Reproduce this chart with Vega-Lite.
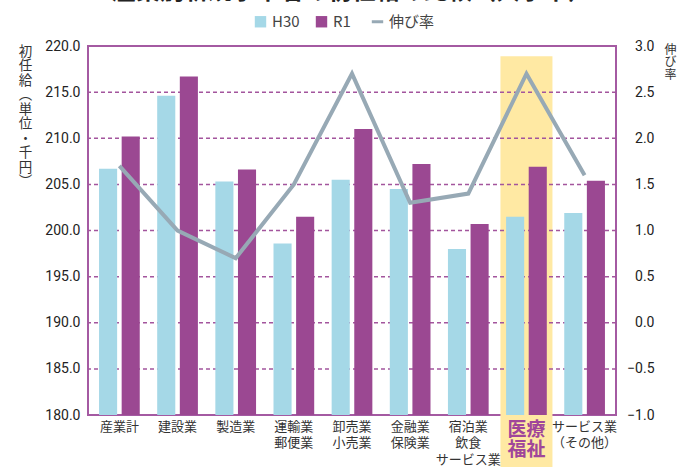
{
  "$schema": "https://vega.github.io/schema/vega-lite/v6.json",
  "width": 528,
  "height": 369,
  "autosize": "none",
  "padding": {"left": 88, "top": 46, "right": 64, "bottom": 52},
  "title": {"text": "産業別新規学卒者の初任給の比較（大学卒）", "fontSize": 24, "font": "Noto Sans CJK JP", "fontWeight": "bold", "color": "#222", "offset": 6, "dy": 20, "baseline": "bottom", "anchor": "middle"},
  "config": {
    "view": {"stroke": "#a45aa2", "strokeWidth": 2},
    "font": "Noto Sans CJK JP",
    "style": {"guide-label": {"lineBreak": "|"}}
  },
  "datasets": {
    "bars": [
      {"cat": "産業計", "series": "H30", "value": 206.7},
      {"cat": "産業計", "series": "R1", "value": 210.2},
      {"cat": "建設業", "series": "H30", "value": 214.6},
      {"cat": "建設業", "series": "R1", "value": 216.7},
      {"cat": "製造業", "series": "H30", "value": 205.3},
      {"cat": "製造業", "series": "R1", "value": 206.6},
      {"cat": "運輸業|郵便業", "series": "H30", "value": 198.6},
      {"cat": "運輸業|郵便業", "series": "R1", "value": 201.5},
      {"cat": "卸売業|小売業", "series": "H30", "value": 205.5},
      {"cat": "卸売業|小売業", "series": "R1", "value": 211.0},
      {"cat": "金融業|保険業", "series": "H30", "value": 204.5},
      {"cat": "金融業|保険業", "series": "R1", "value": 207.2},
      {"cat": "宿泊業|飲食|サービス業", "series": "H30", "value": 198.0},
      {"cat": "宿泊業|飲食|サービス業", "series": "R1", "value": 200.7},
      {"cat": "医療|福祉", "series": "H30", "value": 201.5},
      {"cat": "医療|福祉", "series": "R1", "value": 206.9},
      {"cat": "サービス業|（その他）", "series": "H30", "value": 201.9},
      {"cat": "サービス業|（その他）", "series": "R1", "value": 205.4}
    ],
    "rate": [
      {"cat": "産業計", "rate": 1.7},
      {"cat": "建設業", "rate": 1.0},
      {"cat": "製造業", "rate": 0.7},
      {"cat": "運輸業|郵便業", "rate": 1.5},
      {"cat": "卸売業|小売業", "rate": 2.7},
      {"cat": "金融業|保険業", "rate": 1.3},
      {"cat": "宿泊業|飲食|サービス業", "rate": 1.4},
      {"cat": "医療|福祉", "rate": 2.7},
      {"cat": "サービス業|（その他）", "rate": 1.6}
    ],
    "highlight": [{"cat": "医療|福祉", "top": 218.9, "bottom": 174.2}],
    "grid": [{"v": 185}, {"v": 190}, {"v": 195}, {"v": 200}, {"v": 205}, {"v": 210}, {"v": 215}]
  },
  "encoding": {
    "x": {
      "field": "cat", "type": "nominal",
      "sort": ["産業計", "建設業", "製造業", "運輸業|郵便業", "卸売業|小売業", "金融業|保険業", "宿泊業|飲食|サービス業", "医療|福祉", "サービス業|（その他）"],
      "scale": {"paddingInner": 0.3, "paddingOuter": 0.19},
      "axis": {
        "title": null, "domain": false, "ticks": false, "labelAngle": 0,
        "labelPadding": 5, "labelBaseline": "top", "labelOverlap": false, "zindex": 1,
        "labelFont": "Noto Sans CJK JP",
        "labelLineHeight": {"expr": "datum.value == '医療|福祉' ? 20 : 16.5"},
        "labelFontSize": {"condition": {"test": "datum.value == '医療|福祉'", "value": 19}, "value": 13},
        "labelColor": {"condition": {"test": "datum.value == '医療|福祉'", "value": "#a0469a"}, "value": "#333333"},
        "labelFontWeight": {"condition": {"test": "datum.value == '医療|福祉'", "value": "bold"}, "value": "normal"}
      }
    }
  },
  "layer": [
    {
      "layer": [
        {
          "data": {"name": "highlight"},
          "mark": {"type": "bar", "color": "#ffe9a3", "width": 52, "clip": false},
          "encoding": {
            "y": {"field": "top", "type": "quantitative"},
            "y2": {"field": "bottom"}
          }
        },
        {
          "data": {"name": "grid"},
          "mark": {"type": "rule", "color": "#a3559d", "strokeWidth": 1.5, "strokeDash": [4, 3]},
          "encoding": {
            "x": null,
            "y": {"field": "v", "type": "quantitative"}
          }
        },
        {
          "data": {"name": "bars"},
          "mark": {"type": "bar", "clip": true},
          "encoding": {
            "xOffset": {"field": "series", "sort": ["H30", "R1"], "scale": {"paddingInner": 0.2}},
            "y": {
              "field": "value", "type": "quantitative",
              "scale": {"domain": [180, 220], "nice": false, "zero": false},
              "axis": {
                "title": ["初", "任", "給", "︵", "単", "位", "・", "千", "円", "︶"],
                "titleAngle": 0, "titleAlign": "center", "titleBaseline": "top",
                "titleX": -63, "titleY": -2, "titleFontSize": 13.5, "titleLineHeight": 14.5,
                "titleFontWeight": "normal", "titleColor": "#333",
                "titleFont": "Noto Sans CJK JP",
                "values": [180, 185, 190, 195, 200, 205, 210, 215, 220],
                "format": ".1f", "grid": false, "domain": false, "ticks": false,
                "labelPadding": 8, "labelFontSize": 14, "labelFont": "Roboto", "labelColor": "#222"
              }
            },
            "color": {
              "field": "series", "type": "nominal",
              "scale": {"domain": ["H30", "R1", "伸び率"], "range": ["#a5d8e7", "#9b4892", "#97a9b5"]},
              "legend": {
                "title": null, "orient": "none", "direction": "horizontal",
                "legendX": 165, "legendY": -32,
                "labelFontSize": 15, "labelColor": "#444", "labelFont": "Noto Sans CJK JP",
                "symbolSize": 130, "columnPadding": 14, "labelOffset": 4,
                "encode": {
                  "symbols": {
                    "update": {
                      "shape": {"signal": "datum.value === '伸び率' ? 'stroke' : 'square'"},
                      "strokeWidth": {"signal": "datum.value === '伸び率' ? 3 : 0"},
                      "stroke": {"signal": "scale('color', datum.value)"},
                      "fill": {"signal": "datum.value === '伸び率' ? 'transparent' : scale('color', datum.value)"},
                      "opacity": {"value": 1}
                    }
                  }
                }
              }
            }
          }
        }
      ]
    },
    {
      "data": {"name": "rate"},
      "mark": {"type": "line", "strokeWidth": 4},
      "encoding": {
        "y": {
          "field": "rate", "type": "quantitative",
          "scale": {"domain": [-1, 3], "nice": false, "zero": false},
          "axis": {
            "orient": "right",
            "title": ["伸", "び", "率"],
            "titleAngle": 0, "titleAlign": "center", "titleBaseline": "top",
            "titleX": 54, "titleY": -2, "titleFontSize": 12, "titleLineHeight": 12.5,
            "titleFontWeight": "normal", "titleColor": "#333", "titleFont": "Noto Sans CJK JP",
            "values": [-1, -0.5, 0, 0.5, 1, 1.5, 2, 2.5, 3],
            "format": ".1f", "grid": false, "domain": false, "ticks": false,
            "labelAlign": "right", "labelPadding": 38, "labelFontSize": 14, "labelFont": "Roboto", "labelColor": "#222"
          }
        },
        "color": {"datum": "伸び率"}
      }
    }
  ],
  "resolve": {"scale": {"y": "independent"}}
}
